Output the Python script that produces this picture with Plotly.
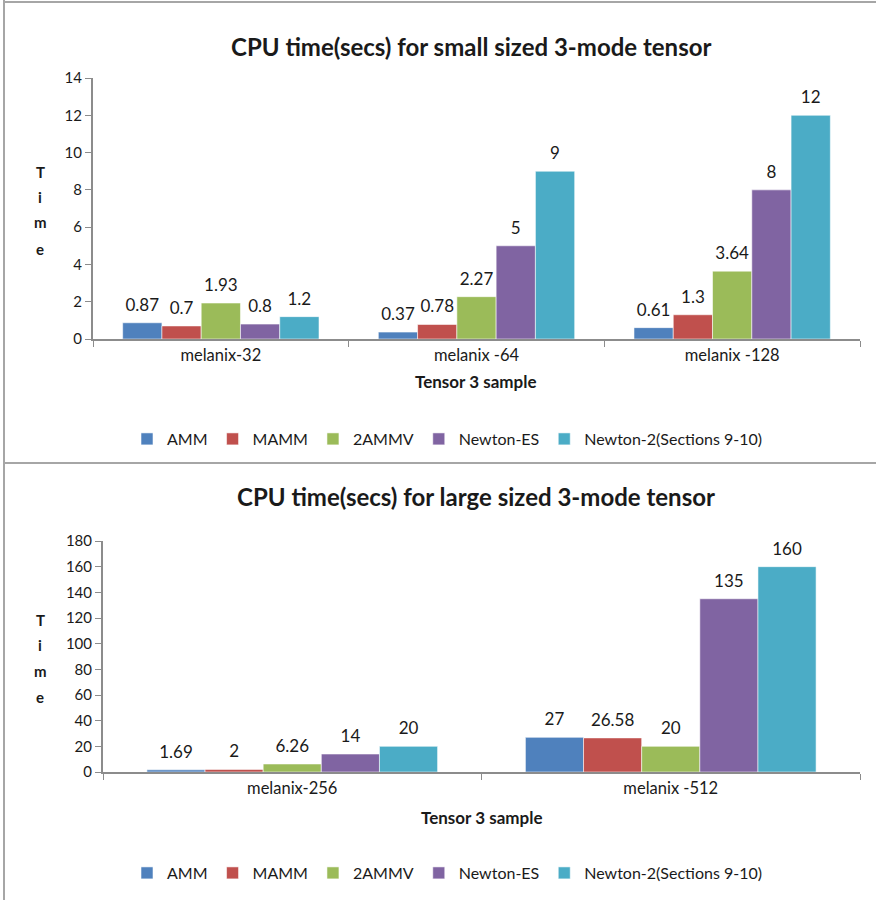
import plotly.graph_objects as go

W, H = 876, 900

series_names = ["AMM", "MAMM", "2AMMV", "Newton-ES", "Newton-2(Sections 9-10)"]
series_colors = ["#4F81BD", "#C0504D", "#9BBB59", "#8064A2", "#4BACC6"]

small_categories = ["melanix-32", "melanix -64", "melanix -128"]
small_amm = [0.87, 0.37, 0.61]
small_mamm = [0.7, 0.78, 1.3]
small_2ammv = [1.93, 2.27, 3.64]
small_newton_es = [0.8, 5, 8]
small_newton_2 = [1.2, 9, 12]

large_categories = ["melanix-256", "melanix -512"]
large_amm = [1.69, 27]
large_mamm = [2, 26.58]
large_2ammv = [6.26, 20]
large_newton_es = [14, 135]
large_newton_2 = [20, 160]

small_ticks = [0, 2, 4, 6, 8, 10, 12, 14]
large_ticks = [0, 20, 40, 60, 80, 100, 120, 140, 160, 180]

title_small = "CPU time(secs) for small sized 3-mode tensor"
title_large = "CPU time(secs) for large sized 3-mode tensor"
x_title = "Tensor 3 sample"
y_title = "Time"

FONT = "Lato"
TXT = "#1a1a1a"
AX = "#8c8c8c"
GAP = 0.232


def fmt(v):
    return ("%g" % v)


def px_x(p):
    return p / W


def px_y(p):
    return 1 - p / H


fig = go.Figure()

small_sets = [small_amm, small_mamm, small_2ammv, small_newton_es, small_newton_2]
large_sets = [large_amm, large_mamm, large_2ammv, large_newton_es, large_newton_2]


def add_group(cats, sets, xa, ya, leg):
    for i, (name, col, vals) in enumerate(zip(series_names, series_colors, sets)):
        fig.add_trace(go.Bar(
            x=cats, y=vals, name=name, offsetgroup=str(i),
            marker=dict(color=col, line=dict(color="rgba(255,255,255,0.55)", width=1)),
            xaxis=xa, yaxis=ya, legend=leg, hoverinfo="skip",
        ))
    # value labels, grouped the same way as the bars
    for i, (name, vals) in enumerate(zip(series_names, sets)):
        fig.add_trace(go.Scatter(
            x=cats, y=vals, mode="markers+text", offsetgroup=str(i),
            text=[fmt(v) for v in vals], textposition="top center",
            textfont=dict(family=FONT, size=17, color=TXT),
            marker=dict(size=11, color="rgba(0,0,0,0)", opacity=0),
            cliponaxis=False, showlegend=False, hoverinfo="skip",
            xaxis=xa, yaxis=ya,
        ))


add_group(small_categories, small_sets, "x", "y", "legend")
add_group(large_categories, large_sets, "x2", "y2", "legend2")

xcommon = dict(type="category", showline=True, linecolor=AX, linewidth=2,
               ticks="outside", tickson="boundaries", ticklen=6, tickcolor=AX,
               tickwidth=1, showgrid=False, zeroline=False, automargin=False,
               tickfont=dict(family=FONT, size=16.5, color=TXT))
ycommon = dict(showline=True, linecolor=AX, linewidth=2, ticks="outside",
               ticklen=6, tickcolor=AX, tickwidth=1, showgrid=False,
               zeroline=False, automargin=False,
               tickfont=dict(family=FONT, size=15, color=TXT))

legend_common = dict(orientation="h", xanchor="center", yanchor="middle",
                     font=dict(family=FONT, size=16, color=TXT),
                     bgcolor="rgba(0,0,0,0)", itemwidth=30, tracegroupgap=0)

annotations = [
    dict(text="<b>%s</b>" % title_small, x=px_x(471), y=px_y(47), xref="paper", yref="paper",
         showarrow=False, font=dict(family=FONT, size=24, color=TXT), xanchor="center", yanchor="middle"),
    dict(text="<b>%s</b>" % title_large, x=px_x(476), y=px_y(497), xref="paper", yref="paper",
         showarrow=False, font=dict(family=FONT, size=24, color=TXT), xanchor="center", yanchor="middle"),
    dict(text="<b>%s</b>" % x_title, x=px_x(475), y=px_y(382), xref="paper", yref="paper",
         showarrow=False, font=dict(family=FONT, size=17, color=TXT), xanchor="center", yanchor="middle"),
    dict(text="<b>%s</b>" % x_title, x=px_x(481), y=px_y(817), xref="paper", yref="paper",
         showarrow=False, font=dict(family=FONT, size=17, color=TXT), xanchor="center", yanchor="middle"),
]
for letters_y in ([172, 197, 222, 249], [620, 645, 671, 697]):
    for ch, py in zip(y_title, letters_y):
        annotations.append(dict(text="<b>%s</b>" % ch, x=px_x(40), y=px_y(py), xref="paper", yref="paper",
                                showarrow=False, font=dict(family=FONT, size=15, color=TXT),
                                xanchor="center", yanchor="middle"))

line_col = "#a6a6a6"
shapes = [
    dict(type="line", xref="paper", yref="paper", x0=px_x(4), x1=px_x(4), y0=0, y1=1,
         line=dict(color=line_col, width=2)),
    dict(type="line", xref="paper", yref="paper", x0=px_x(4), x1=1, y0=px_y(2), y1=px_y(2),
         line=dict(color=line_col, width=2)),
    dict(type="line", xref="paper", yref="paper", x0=px_x(4), x1=1, y0=px_y(463), y1=px_y(463),
         line=dict(color=line_col, width=2)),
]

fig.update_layout(
    width=W, height=H, autosize=False, margin=dict(l=0, r=0, t=0, b=0, pad=0),
    paper_bgcolor="white", plot_bgcolor="white",
    barmode="group", bargap=GAP, bargroupgap=0,
    scattermode="group", scattergap=GAP,
    font=dict(family=FONT, color=TXT),
    xaxis=dict(domain=[px_x(93), px_x(860)], anchor="y", **xcommon),
    yaxis=dict(domain=[px_y(339), px_y(78)], anchor="x", range=[0, 14],
               tickvals=small_ticks, **ycommon),
    xaxis2=dict(domain=[px_x(103), px_x(860)], anchor="y2", **xcommon),
    yaxis2=dict(domain=[px_y(772), px_y(541)], anchor="x2", range=[0, 180],
                tickvals=large_ticks, **ycommon),
    legend=dict(x=px_x(447), y=px_y(439), **legend_common),
    legend2=dict(x=px_x(447), y=px_y(873), **legend_common),
    annotations=annotations,
    shapes=shapes,
)

fig.write_html(
    "out.html",
    config={"responsive": False, "displayModeBar": False},
    post_script="document.body.style.margin='0';document.body.style.overflow='hidden';",
)
